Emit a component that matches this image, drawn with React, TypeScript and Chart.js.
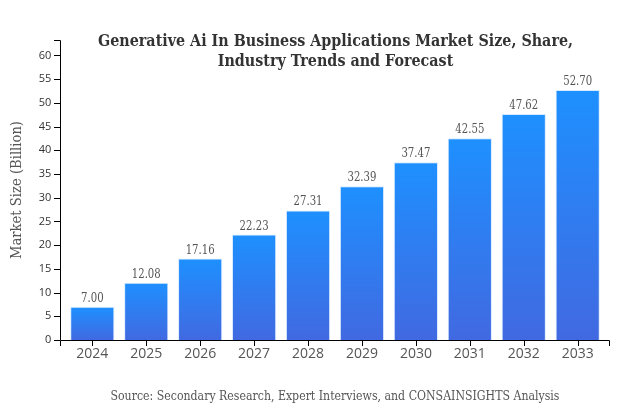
import React, { useEffect, useRef } from "react";
import { Chart, registerables } from "chart.js";

Chart.register(...registerables);

const years = ["2024", "2025", "2026", "2027", "2028", "2029", "2030", "2031", "2032", "2033"];
const marketSize = [7.0, 12.08, 17.16, 22.23, 27.31, 32.39, 37.47, 42.55, 47.62, 52.7];
const yTickValues = [0, 5, 10, 15, 20, 25, 30, 35, 40, 45, 50, 55, 60];
const titleLines = [
  "Generative Ai In Business Applications Market Size, Share,",
  "Industry Trends and Forecast",
];
const yAxisTitle = "Market Size (Billion)";
const sourceText = "Source: Secondary Research, Expert Interviews, and CONSAINSIGHTS Analysis";

const AX_L = 60;
const AX_R = 610;
const AX_T = 40;
const AX_B = 340;
const SERIF = "'DejaVu Serif', serif";

// draw text at a given font size, condensed horizontally so the reference line width is matched
function drawFitted(
  ctx: CanvasRenderingContext2D,
  text: string,
  font: string,
  refText: string,
  target: number,
  x: number,
  y: number
) {
  ctx.font = font;
  const w = ctx.measureText(refText).width;
  const sx = Math.min(1, target / w);
  ctx.save();
  ctx.translate(x, y);
  ctx.scale(sx, 1);
  ctx.fillText(text, 0, 0);
  ctx.restore();
}

const overlay = {
  id: "overlay",
  afterDraw(chart: any) {
    const ctx: CanvasRenderingContext2D = chart.ctx;
    const yScale = chart.scales.y;
    const xScale = chart.scales.x;
    ctx.save();
    // axes
    ctx.strokeStyle = "#000";
    ctx.lineWidth = 1;
    ctx.beginPath();
    ctx.moveTo(AX_L - 6, AX_T + 0.5);
    ctx.lineTo(AX_L + 0.5, AX_T + 0.5);
    ctx.lineTo(AX_L + 0.5, AX_B + 0.5);
    ctx.moveTo(AX_L + 0.5, AX_B + 6);
    ctx.lineTo(AX_L + 0.5, AX_B + 0.5);
    ctx.lineTo(AX_R - 0.5, AX_B + 0.5);
    ctx.lineTo(AX_R - 0.5, AX_B + 6);
    for (const v of yTickValues) {
      const py = Math.round(yScale.getPixelForValue(v)) + 0.5;
      ctx.moveTo(AX_L - 6, py);
      ctx.lineTo(AX_L, py);
    }
    years.forEach((_, i) => {
      const px = Math.round(xScale.getPixelForValue(i)) + 0.5;
      ctx.moveTo(px, AX_B);
      ctx.lineTo(px, AX_B + 6);
    });
    ctx.stroke();

    // data labels
    const meta = chart.getDatasetMeta(0);
    ctx.fillStyle = "#555";
    ctx.font = `12.5px ${SERIF}`;
    ctx.textAlign = "center";
    ctx.textBaseline = "alphabetic";
    meta.data.forEach((bar: any, i: number) => {
      drawFitted(ctx, marketSize[i].toFixed(2), `12.5px ${SERIF}`, "52.70", 29, bar.x, bar.y - 5);
    });

    // title
    ctx.fillStyle = "#333";
    ctx.textAlign = "center";
    ctx.textBaseline = "alphabetic";
    const tf = `bold 17px ${SERIF}`;
    drawFitted(ctx, titleLines[0], tf, titleLines[0], 475, 335.5, 46);
    drawFitted(ctx, titleLines[1], tf, titleLines[0], 475, 335.5, 66);

    // y title
    ctx.save();
    ctx.translate(21, 190);
    ctx.rotate(-Math.PI / 2);
    ctx.fillStyle = "#555";
    ctx.textAlign = "center";
    drawFitted(ctx, yAxisTitle, `14px ${SERIF}`, yAxisTitle, 138, 0, 0);
    ctx.restore();

    // source
    ctx.fillStyle = "#555";
    ctx.textAlign = "center";
    drawFitted(ctx, sourceText, `13px ${SERIF}`, sourceText, 449, 335, 400);
    ctx.restore();
  },
};

export default function App() {
  const ref = useRef<HTMLCanvasElement | null>(null);
  useEffect(() => {
    if (!ref.current) return;
    const chart = new Chart(ref.current, {
      type: "bar",
      data: {
        labels: years,
        datasets: [
          {
            data: marketSize,
            backgroundColor: (c: any) => {
              const ch = c.chart;
              const ys = ch.scales?.y;
              if (!ys || c.parsed == null) return "#2f7bef";
              const top = ys.getPixelForValue(c.parsed.y);
              const bottom = ys.getPixelForValue(0);
              if (!isFinite(top) || !isFinite(bottom) || top === bottom) return "#2f7bef";
              const g = ch.ctx.createLinearGradient(0, top, 0, bottom);
              g.addColorStop(0, "#1E90FF");
              g.addColorStop(1, "#4169E1");
              return g;
            },
            borderColor: "rgba(200,225,255,0.7)",
            borderWidth: 1,
            barPercentage: 0.82,
            categoryPercentage: 1,
          },
        ],
      },
      options: {
        responsive: false,
        animation: false,
        devicePixelRatio: 1,
        layout: { padding: { left: 0, top: AX_T, right: 25.35, bottom: 40 } },
        plugins: { legend: { display: false }, tooltip: { enabled: false }, title: { display: false } },
        scales: {
          x: {
            afterFit: (s: any) => {
              s.height = 30;
            },
            grid: { display: false, drawTicks: false },
            border: { display: false },
            ticks: { color: "#555", font: { family: "'Open Sans', sans-serif", size: 14 }, padding: 6 },
          },
          y: {
            min: 0,
            max: 63.24,
            afterFit: (s: any) => {
              s.width = 65.35;
            },
            afterBuildTicks: (s: any) => {
              s.ticks = yTickValues.map((v) => ({ value: v }));
            },
            grid: { display: false, drawTicks: false },
            border: { display: false },
            ticks: { color: "#333", font: { family: "'Open Sans', sans-serif", size: 11 }, padding: 14 },
          },
        },
      },
      plugins: [overlay],
    });
    return () => chart.destroy();
  }, []);
  return (
    <div style={{ position: "absolute", left: 0, top: 0, width: 630, height: 410, background: "#fff" }}>
      <canvas ref={ref} width={630} height={410} />
    </div>
  );
}
